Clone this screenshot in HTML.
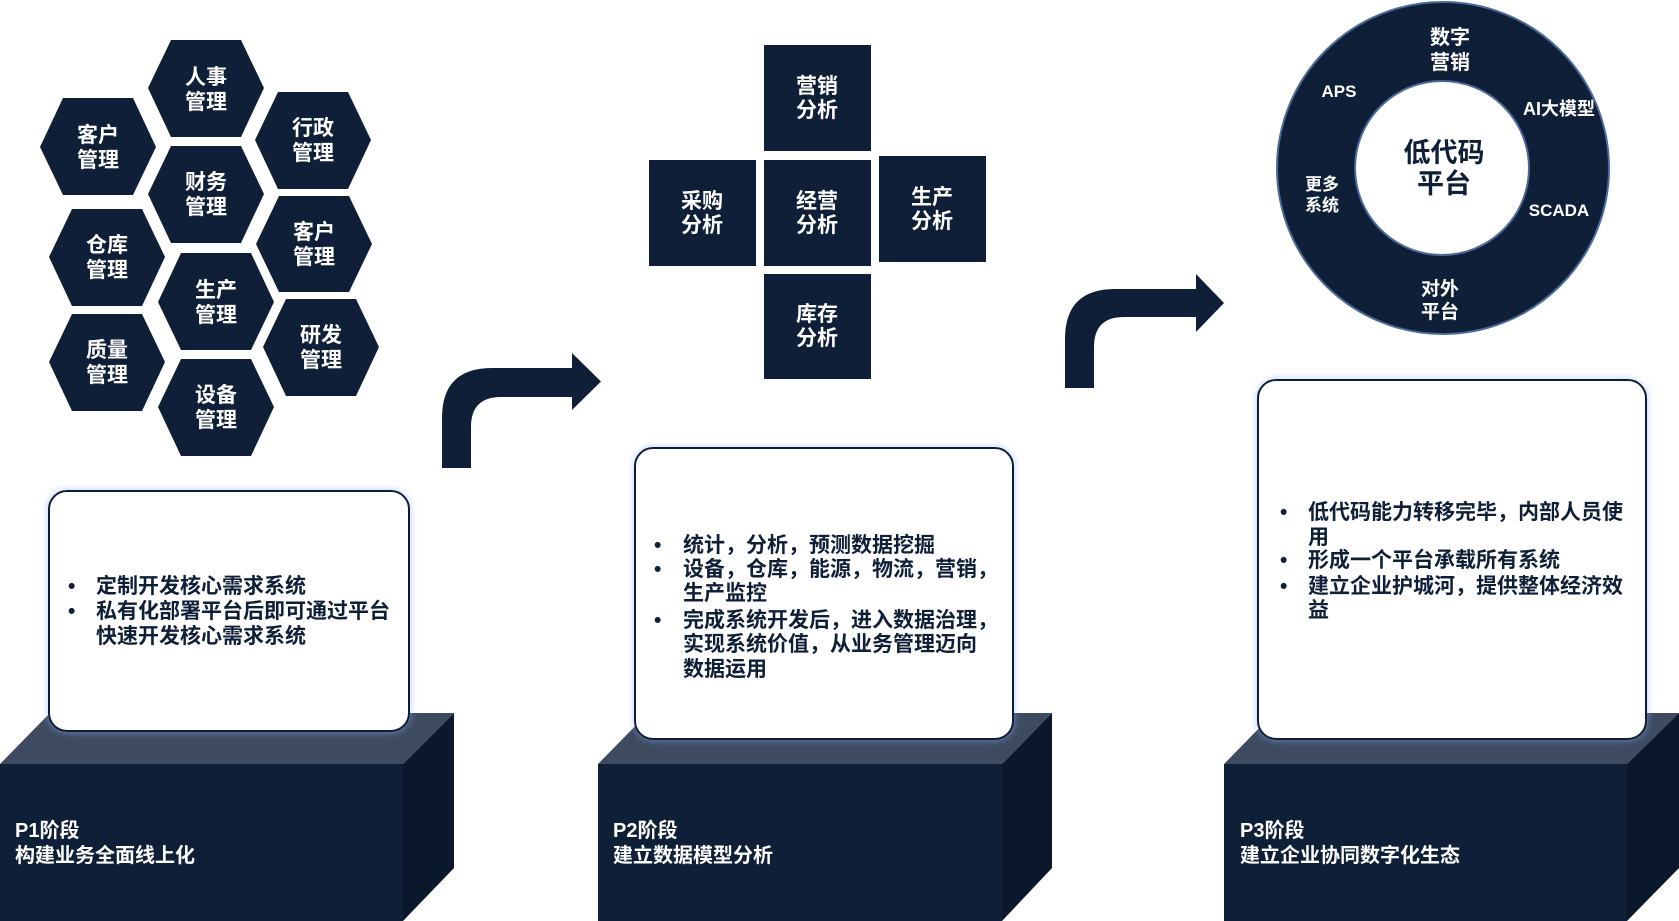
<!DOCTYPE html>
<html><head><meta charset="utf-8"><style>
html,body{margin:0;padding:0;background:#fff;}
svg{display:block;}
text{font-family:"Liberation Sans","Noto Sans CJK SC",sans-serif;font-weight:bold;}
</style></head><body>
<svg width="1679" height="921" viewBox="0 0 1679 921" xmlns="http://www.w3.org/2000/svg">
<defs>
<filter id="glow" x="-10%" y="-10%" width="120%" height="120%">
<feDropShadow dx="0" dy="0" stdDeviation="4" flood-color="#8fb0ff" flood-opacity="0.6"/>
</filter>
</defs>
<g fill="#0f1f38">
<polygon points="148,88 171,40 241,40 264,88 241,137 171,137"/>
<polygon points="40,147 63,98 133,98 156,147 133,195 63,195"/>
<polygon points="255,140 278,92 348,92 371,140 348,189 278,189"/>
<polygon points="148,194 171,146 241,146 264,194 241,243 171,243"/>
<polygon points="49,257 72,209 142,209 165,257 142,306 72,306"/>
<polygon points="256,244 279,196 349,196 372,244 349,292 279,292"/>
<polygon points="158,302 181,253 251,253 274,302 251,350 181,350"/>
<polygon points="49,362 72,314 142,314 165,362 142,411 72,411"/>
<polygon points="263,347 286,299 356,299 379,347 356,396 286,396"/>
<polygon points="158,407 181,359 251,359 274,407 251,456 181,456"/>
<rect x="764" y="45" width="107" height="106"/>
<rect x="649" y="160" width="107" height="106"/>
<rect x="764" y="160" width="107" height="106"/>
<rect x="879" y="156" width="107" height="106"/>
<rect x="764" y="274" width="107" height="105"/>
<path d="M442,468 L442,418 Q442,368 492,368 L572,368 L572,353 L601,381.5 L572,410 L572,397 L501,397 Q471,397 471,427 L471,468 Z"/>
<path d="M1065,388 L1065,339 Q1065,289 1115,289 L1196,289 L1196,274 L1224,303 L1196,332 L1196,317 L1124,317 Q1094,317 1094,347 L1094,388 Z"/>
</g>
<g fill="#fff" font-size="21" text-anchor="middle">
<text x="206" y="84">人事</text><text x="206" y="109">管理</text>
<text x="98" y="142">客户</text><text x="98" y="167">管理</text>
<text x="313" y="135">行政</text><text x="313" y="160">管理</text>
<text x="206" y="189">财务</text><text x="206" y="214">管理</text>
<text x="107" y="252">仓库</text><text x="107" y="277">管理</text>
<text x="314" y="239">客户</text><text x="314" y="264">管理</text>
<text x="216" y="297">生产</text><text x="216" y="322">管理</text>
<text x="107" y="357">质量</text><text x="107" y="382">管理</text>
<text x="321" y="342">研发</text><text x="321" y="367">管理</text>
<text x="216" y="402">设备</text><text x="216" y="427">管理</text>
<text x="817" y="93">营销</text><text x="817" y="117">分析</text>
<text x="702" y="208">采购</text><text x="702" y="232">分析</text>
<text x="817" y="208">经营</text><text x="817" y="232">分析</text>
<text x="932" y="204">生产</text><text x="932" y="228">分析</text>
<text x="817" y="321">库存</text><text x="817" y="345">分析</text>
</g>
<circle cx="1443" cy="168" r="166" fill="#0f1f38" stroke="#4a6a9a" stroke-width="2"/>
<circle cx="1442" cy="168" r="87" fill="#fff" stroke="#4a6a9a" stroke-width="2"/>
<g fill="#fff" font-size="20" text-anchor="middle">
<text x="1450" y="44">数字</text><text x="1450" y="69">营销</text>
<text x="1339" y="97" font-size="17">APS</text>
<text x="1559" y="115" font-size="18">AI大模型</text>
<text x="1322" y="190" font-size="17">更多</text><text x="1322" y="211" font-size="17">系统</text>
<text x="1559" y="216" font-size="17">SCADA</text>
<text x="1440" y="295" font-size="19">对外</text><text x="1440" y="318" font-size="19">平台</text>
</g>
<g fill="#0f1f38" font-size="27" text-anchor="middle">
<text x="1444" y="162">低代码</text><text x="1444" y="193">平台</text>
</g>
<g>
<polygon points="0,764 50,713 454,713 403,764" fill="#3d4a5f"/>
<polygon points="403,764 454,713 454,868 403,921" fill="#0b182b"/>
<rect x="0" y="764" width="403" height="157" fill="#0f1f38"/>
<polygon points="598,764 648,713 1052,713 1002,764" fill="#3d4a5f"/>
<polygon points="1002,764 1052,713 1052,868 1002,921" fill="#0b182b"/>
<rect x="598" y="764" width="404" height="157" fill="#0f1f38"/>
<polygon points="1224,764 1274,713 1679,713 1627,764" fill="#3d4a5f"/>
<polygon points="1627,764 1679,713 1679,868 1627,921" fill="#0b182b"/>
<rect x="1224" y="764" width="403" height="157" fill="#0f1f38"/>
</g>
<g fill="#fff" font-size="20">
<text x="15" y="837">P1阶段</text><text x="15" y="862">构建业务全面线上化</text>
<text x="613" y="837">P2阶段</text><text x="613" y="862">建立数据模型分析</text>
<text x="1240" y="837">P3阶段</text><text x="1240" y="862">建立企业协同数字化生态</text>
</g>
<rect x="49" y="491" width="360" height="240" rx="18" fill="#fff" stroke="#0f1f38" stroke-width="2" filter="url(#glow)"/>
<rect x="635" y="448" width="378" height="291" rx="18" fill="#fff" stroke="#0f1f38" stroke-width="2" filter="url(#glow)"/>
<rect x="1258" y="380" width="388" height="359" rx="18" fill="#fff" stroke="#0f1f38" stroke-width="2" filter="url(#glow)"/>
<g fill="#0f1f38" font-size="21">
<text x="68" y="593">•</text><text x="96" y="593">定制开发核心需求系统</text>
<text x="68" y="618">•</text><text x="96" y="618">私有化部署平台后即可通过平台</text>
<text x="96" y="643">快速开发核心需求系统</text>
<text x="654" y="552">•</text><text x="683" y="552">统计，分析，预测数据挖掘</text>
<text x="654" y="576">•</text><text x="683" y="576">设备，仓库，能源，物流，营销，</text>
<text x="683" y="600">生产监控</text>
<text x="654" y="627">•</text><text x="683" y="627">完成系统开发后，进入数据治理，</text>
<text x="683" y="651">实现系统价值，从业务管理迈向</text>
<text x="683" y="676">数据运用</text>
<text x="1280" y="519">•</text><text x="1308" y="519">低代码能力转移完毕，内部人员使</text>
<text x="1308" y="544">用</text>
<text x="1280" y="567">•</text><text x="1308" y="567">形成一个平台承载所有系统</text>
<text x="1280" y="593">•</text><text x="1308" y="593">建立企业护城河，提供整体经济效</text>
<text x="1308" y="617">益</text>
</g>
</svg>
</body></html>
